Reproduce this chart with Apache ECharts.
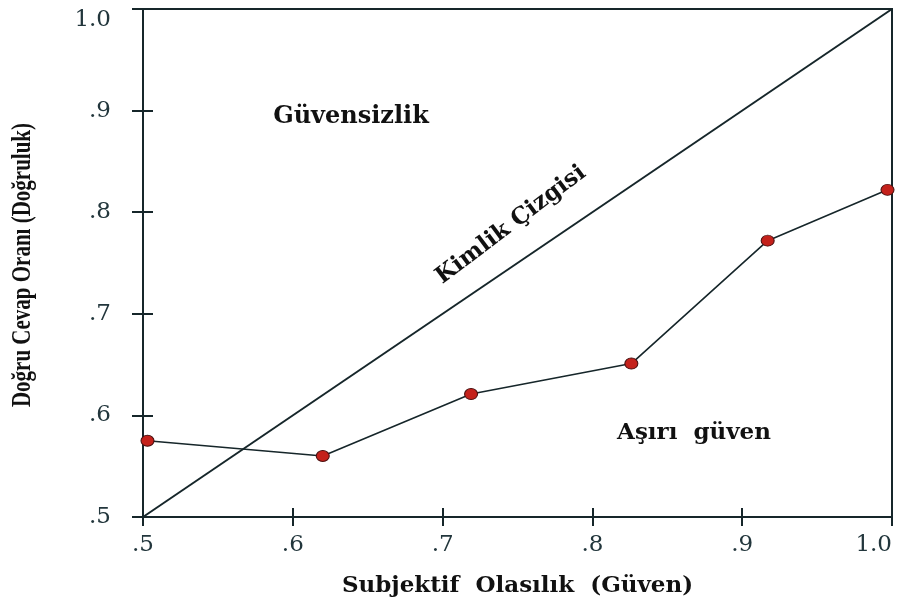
<!DOCTYPE html>
<html>
<head>
<meta charset="utf-8">
<script src="https://cdn.jsdelivr.net/npm/echarts@6/dist/echarts.min.js"></script>
<style>
  html, body { margin: 0; padding: 0; background: #fff; }
  #chart { width: 902px; height: 612px; }
</style>
</head>
<body>
<div id="chart"></div>
<script>
// gözlenen noktalar (öznel olasılık, doğru cevap oranı)
const confidence = [0.503, 0.62, 0.719, 0.826, 0.917, 0.997];
const accuracy = [0.575, 0.56, 0.621, 0.651, 0.772, 0.822];
// kimlik çizgisi
const identityX = [0.5, 1.0];
const identityY = [0.5, 1.0];

const ink = '#16262a';
const fmt = v => (Math.abs(v - 1) < 1e-9 ? '1.0' : v.toFixed(1).replace(/^0/, ''));

const chart = echarts.init(document.getElementById('chart'));

const baseAxis = {
  type: 'value', min: 0.5, max: 1.0, interval: 0.1,
  splitLine: { show: false }
};

chart.setOption({
  animation: false,
  backgroundColor: '#fff',
  grid: {
    left: 143, right: 10, top: 9, bottom: 95,
    outerBoundsMode: 'none',
    show: true, borderColor: ink, borderWidth: 2, backgroundColor: 'transparent'
  },
  xAxis: [
    Object.assign({}, baseAxis, {
      position: 'bottom',
      axisLine: { lineStyle: { color: ink, width: 2 } },
      axisTick: { length: 9, lineStyle: { color: ink, width: 2 } },
      axisLabel: {
        formatter: fmt, margin: 17, color: '#22363c',
        fontFamily: 'DejaVu Serif', fontSize: 23,
        alignMaxLabel: 'right'
      },
      name: 'Subjektif  Olasılık  (Güven)',
      nameLocation: 'middle', nameGap: 58,
      nameTextStyle: {
        fontFamily: 'DejaVu Serif', fontWeight: 'bold', fontSize: 23, color: '#111'
      }
    }),
    Object.assign({}, baseAxis, {
      position: 'bottom',
      axisLine: { show: false },
      axisTick: { inside: true, length: 9, lineStyle: { color: ink, width: 2 } },
      axisLabel: { show: false }
    })
  ],
  yAxis: [
    Object.assign({}, baseAxis, {
      position: 'left',
      axisLine: { lineStyle: { color: ink, width: 2 } },
      axisTick: { length: 11, lineStyle: { color: ink, width: 2 } },
      axisLabel: {
        formatter: fmt, margin: 32, color: '#22363c',
        fontFamily: 'DejaVu Serif', fontSize: 23,
        verticalAlignMaxLabel: 'top'
      }
    }),
    Object.assign({}, baseAxis, {
      position: 'left',
      axisLine: { show: false },
      axisTick: { inside: true, length: 10, lineStyle: { color: ink, width: 2 } },
      axisLabel: { show: false }
    })
  ],
  series: [
    {
      name: 'Kimlik Çizgisi',
      type: 'line',
      data: identityX.map((x, i) => [x, identityY[i]]),
      showSymbol: false,
      lineStyle: { color: ink, width: 2 },
      z: 2
    },
    {
      name: 'Doğruluk',
      type: 'line',
      data: confidence.map((x, i) => [x, accuracy[i]]),
      symbol: 'circle',
      symbolSize: [13, 11],
      itemStyle: { color: '#c4211b', borderColor: '#4a1010', borderWidth: 1 },
      lineStyle: { color: ink, width: 1.6 },
      z: 3
    }
  ],
  graphic: [
    {
      // y ekseni adı, yatayda biraz geniş
      type: 'text', x: 23, y: 265, rotation: Math.PI / 2, scaleY: 1.3,
      style: {
        text: 'Doğru Cevap Oranı (Doğruluk)', fill: '#111',
        align: 'center', verticalAlign: 'middle',
        font: 'bold 21px "Liberation Serif"'
      }
    },
    {
      type: 'text', x: 351, y: 117,
      style: {
        text: 'Güvensizlik', fill: '#111', align: 'center', verticalAlign: 'middle',
        font: 'bold 24px "DejaVu Serif"'
      }
    },
    {
      type: 'text', x: 694, y: 433,
      style: {
        text: 'Aşırı  güven', fill: '#111', align: 'center', verticalAlign: 'middle',
        font: 'bold 23px "DejaVu Serif"'
      }
    },
    {
      type: 'text', x: 511, y: 225, rotation: 37 * Math.PI / 180,
      style: {
        text: 'Kimlik Çizgisi', fill: '#111', align: 'center', verticalAlign: 'middle',
        font: 'bold 23px "DejaVu Serif"'
      }
    }
  ]
});
</script>
</body>
</html>
